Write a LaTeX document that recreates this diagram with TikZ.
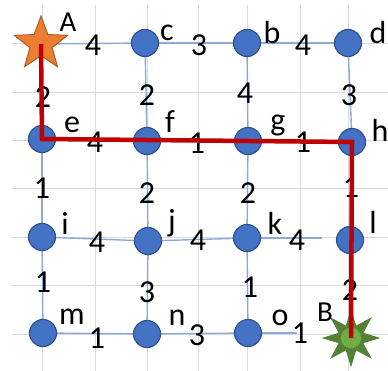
\documentclass[tikz,border=0pt]{standalone}
\usepackage{fontspec}
\setmainfont{Carlito}
\usetikzlibrary{shapes.geometric}
\definecolor{gridc}{HTML}{D6DBE2}
\definecolor{edgec}{HTML}{8EA9D4}
\definecolor{nodefill}{HTML}{4472C4}
\definecolor{nodeline}{HTML}{2F528F}
\definecolor{orangef}{HTML}{ED7D31}
\definecolor{oranged}{HTML}{AE5A21}
\definecolor{greend}{HTML}{548235}
\definecolor{greenl}{HTML}{70AD47}
\definecolor{pathred}{HTML}{C00000}
\pgfdeclarelayer{bg}
\pgfdeclarelayer{fg}
\pgfsetlayers{bg,main,fg}
\tikzset{
  gridline/.style={draw=gridc, line width=0.9pt},
  edge/.style={draw=edgec, line width=1.4pt},
  vert/.style={circle, fill=nodefill, draw=nodeline, line width=1.2pt, minimum size=27pt, inner sep=0pt},
  wt/.style={inner sep=0pt, font=\fontsize{32}{32}\selectfont, text=black},
  nm/.style={inner sep=0pt, font=\fontsize{32}{32}\selectfont, text=black},
  endlab/.style={inner sep=0pt, font=\fontsize{29}{29}\selectfont, text=black},
  startstar/.style={star, star points=5, star point ratio=2.4, minimum size=56pt, inner sep=0pt, fill=orangef, draw=oranged, line width=1pt},
  goalstar/.style={star, star points=8, star point ratio=2.2, minimum size=56pt, inner sep=0pt, fill=greend, draw=greend, line width=0.8pt},
  goalcore/.style={circle, minimum size=21pt, inner sep=0pt, fill=greenl, draw=greenl!80!black, line width=0.6pt},
  route/.style={draw=pathred, line width=4.5pt, line join=miter}
}
\begin{document}
\begin{tikzpicture}[x=1pt,y=-1pt]
\useasboundingbox (0,0) rectangle (388,371);
\begin{pgfonlayer}{bg}
\foreach \x in {42,95,147,198,247,300,348} \draw[gridline] (\x,5) -- (\x,371);
\foreach \y in {43,92,140,188,237,285,334} \draw[gridline] (12,\y) -- (388,\y);
\end{pgfonlayer}
% vertices
\node[startstar] (A) at (41,44) {};
\node[vert] (c) at (145,43) {};
\node[vert] (b) at (247,43) {};
\node[vert] (d) at (348,43) {};
\node[vert] (e) at (42,139) {};
\node[vert] (f) at (147,141) {};
\node[vert] (g) at (248,141) {};
\node[vert] (h) at (352,142) {};
\node[vert] (i) at (42,237) {};
\node[vert] (j) at (148,241) {};
\node[vert] (k) at (247,238) {};
\node[vert] (l) at (350,240) {};
\node[vert] (m) at (43,333) {};
\node[vert] (n) at (147,334) {};
\node[vert] (o) at (248,333) {};
\node[goalstar] (B) at (351,338) {};
\node[goalcore] (Bc) at (351,338) {};
\coordinate (kl) at (322,238);
\coordinate (oB) at (297,333);
% edges
\begin{pgfonlayer}{bg}
\draw[edge] (A) -- (c);
\draw[edge] (c) -- (b);
\draw[edge] (b) -- (d);
\draw[edge] (A) -- (e);
\draw[edge] (c) -- (f);
\draw[edge] (b) -- (g);
\draw[edge] (d) -- (h);
\draw[edge] (e) -- (f);
\draw[edge] (f) -- (g);
\draw[edge] (g) -- (h);
\draw[edge] (e) -- (i);
\draw[edge] (f) -- (j);
\draw[edge] (g) -- (k);
\draw[edge] (h) -- (l);
\draw[edge] (i) -- (j);
\draw[edge] (j) -- (k);
\draw[edge] (k) -- (kl);
\draw[edge] (i) -- (m);
\draw[edge] (j) -- (n);
\draw[edge] (k) -- (o);
\draw[edge] (l) -- (B);
\draw[edge] (m) -- (n);
\draw[edge] (n) -- (o);
\draw[edge] (o) -- (oB);
\end{pgfonlayer}
% weights
\node[wt] (wAc) at (93,45) {4};
\node[wt] (wcb) at (199,45) {3};
\node[wt] (wbd) at (303,45) {4};
\node[wt] (wAe) at (43,97) {2};
\node[wt] (wcf) at (147,95) {2};
\node[wt] (wbg) at (245,93) {4};
\node[wt] (wdh) at (349,95) {3};
\node[wt] (wef) at (95,142) {4};
\node[wt] (wfg) at (197,143) {1};
\node[wt] (wgh) at (303,142) {1};
\node[wt] (wei) at (42,188) {1};
\node[wt] (wfj) at (147,193) {2};
\node[wt] (wgk) at (248,193) {2};
\node[wt] (whl) at (351,187) {1};
\node[wt] (wij) at (97,242) {4};
\node[wt] (wjk) at (198,240) {4};
\node[wt] (wkl) at (297,240) {4};
\node[wt] (wim) at (43,282) {1};
\node[wt] (wjn) at (147,292) {3};
\node[wt] (wko) at (250,287) {1};
\node[wt] (wlB) at (350,290) {2};
\node[wt] (wmn) at (97,338) {1};
\node[wt] (wno) at (197,335) {3};
\node[wt] (woB) at (300,333) {1};
% names
\node[endlab] (lA) at (68,22) {A};
\node[nm] (lc) at (167,33) {c};
\node[nm] (lb) at (272,33) {b};
\node[nm] (ld) at (378,33) {d};
\node[nm] (le) at (72,125) {e};
\node[nm] (lf) at (170,122) {f};
\node[nm] (lg) at (278,125) {g};
\node[nm] (lh) at (380,130) {h};
\node[nm] (li) at (65,223) {i};
\node[nm] (lj) at (172,223) {j};
\node[nm] (lk) at (275,223) {k};
\node[nm] (ll) at (373,222) {l};
\node[nm] (lm) at (72,317) {m};
\node[nm] (ln) at (177,318) {n};
\node[nm] (lo) at (280,318) {o};
\node[endlab] (lB) at (325,312) {B};
% route
\begin{pgfonlayer}{fg}
\draw[route] (A.center) -- (e.center) -- (h.center) -- (B.center);
\end{pgfonlayer}
\end{tikzpicture}
\end{document}
